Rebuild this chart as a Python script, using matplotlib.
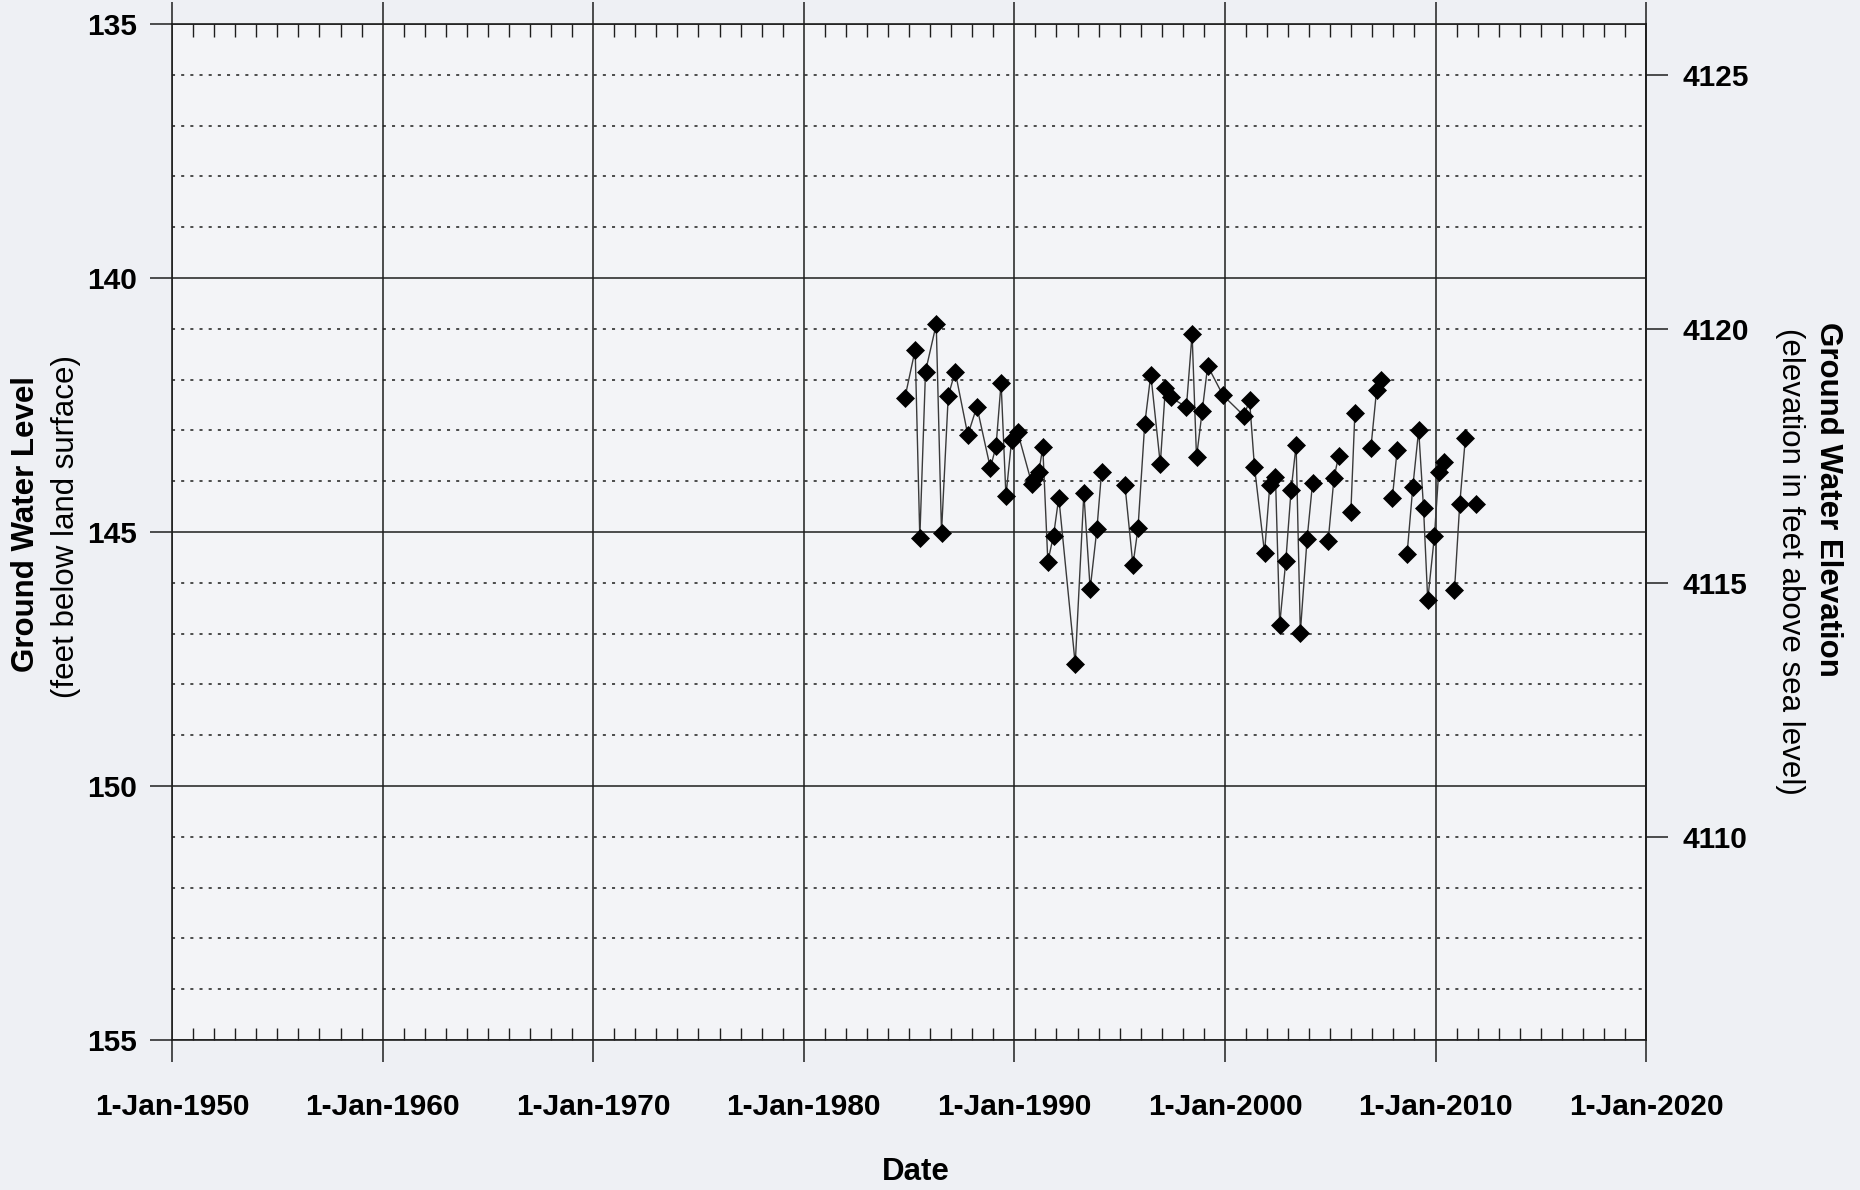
import numpy as np
import matplotlib
matplotlib.use("Agg")
import matplotlib.pyplot as plt
from matplotlib.ticker import MultipleLocator

plt.rcParams['font.family'] = 'Liberation Sans'
plt.rcParams['font.weight'] = 'bold'

# measurement dates as decimal years; nan depth = no line drawn across the gap
years = [1984.80, 1985.29, 1985.51, 1985.78, 1986.29, 1986.54, 1986.86, 1987.19,
         1987.79, 1988.22, 1988.86, 1989.13, 1989.37, 1989.60, 1989.87, 1990.16,
         1990.83, 1990.95, 1991.16, 1991.35, 1991.59, 1991.86, 1992.11, 1992.89,
         1993.30, 1993.60, 1993.92, 1994.14, 1994.70,
         1995.25, 1995.63, 1995.87, 1996.19, 1996.48, 1996.93, 1997.17, 1997.43,
         1998.17, 1998.44, 1998.65, 1998.92, 1999.18, 1999.91, 2000.90, 2001.17,
         2001.40, 2001.88, 2002.13, 2002.40, 2002.60, 2002.89, 2003.14, 2003.38,
         2003.58, 2003.90, 2004.16, 2004.50,
         2004.90, 2005.18, 2005.40, 2005.70,
         2005.98, 2006.17, 2006.55,
         2006.93, 2007.20, 2007.40, 2007.70,
         2007.95, 2008.18, 2008.40,
         2008.65, 2008.92, 2009.20, 2009.43, 2009.63, 2009.95, 2010.15, 2010.40, 2010.65,
         2010.90, 2011.15, 2011.42, 2011.70,
         2011.93]
depth_ft = [142.36, 141.41, 145.12, 141.84, 140.91, 145.01, 142.32, 141.84,
            143.09, 142.53, 143.74, 143.31, 142.06, 144.29, 143.19, 143.04,
            144.05, 143.95, 143.82, 143.33, 145.58, 145.07, 144.32, 147.60,
            144.24, 146.12, 144.94, 143.82, np.nan,
            144.07, 145.65, 144.93, 142.88, 141.90, 143.66, 142.17, 142.35,
            142.54, 141.10, 143.53, 142.62, 141.73, 142.31, 142.71, 142.41,
            143.71, 145.41, 144.08, 143.91, 146.82, 145.57, 144.18, 143.29,
            146.98, 145.14, 144.04, np.nan,
            145.18, 143.93, 143.50, np.nan,
            144.60, 142.66, np.nan,
            143.35, 142.21, 142.00, np.nan,
            144.33, 143.38, np.nan,
            145.43, 144.12, 142.99, 144.52, 146.34, 145.07, 143.82, 143.62, np.nan,
            146.15, 144.45, 143.14, np.nan,
            144.45]

decades = [1950, 1960, 1970, 1980, 1990, 2000, 2010, 2020]
decade_labels = ['1-Jan-1950', '1-Jan-1960', '1-Jan-1970', '1-Jan-1980',
                 '1-Jan-1990', '1-Jan-2000', '1-Jan-2010', '1-Jan-2020']
depth_ticks = [135, 140, 145, 150, 155]
elev_ticks = [4110, 4115, 4120, 4125]
land_surface = 4261  # ft above sea level

bg = '#eef0f4'
ink = '#1e1e1e'

fig = plt.figure(figsize=(18.6, 11.9), dpi=100)
fig.patch.set_facecolor(bg)
ax = fig.add_axes([0.0925, 0.126, 0.7925, 0.8538])
ax.set_facecolor('#f3f4f7')

ax.plot(years, depth_ft, color='#3a3a3a', lw=1.0, marker='D', ms=9,
        mfc='black', mec='black', mew=0.5, zorder=3)

ax.set_xlim(1950, 2020)
ax.set_ylim(155, 135)

ax.set_xticks(decades)
ax.set_xticklabels(decade_labels)
ax.xaxis.set_minor_locator(MultipleLocator(1))
ax.set_yticks(depth_ticks)
ax.yaxis.set_minor_locator(MultipleLocator(1))

ax.grid(which='major', axis='both', color=ink, lw=1.1, ls='-')
ax.grid(which='minor', axis='y', color=ink, lw=1.1, ls=(0, (2, 4)))
ax.set_axisbelow(True)

for s in ax.spines.values():
    s.set_color(ink)
    s.set_linewidth(1.2)

ax.tick_params(axis='x', which='major', direction='out', length=16, width=1.1,
               top=True, bottom=True, labeltop=False, labelsize=21.5, pad=22, color=ink)
ax.tick_params(axis='x', which='minor', direction='in', length=9, width=1.0,
               top=True, bottom=True, color=ink)
ax.tick_params(axis='y', which='major', direction='out', length=16, width=1.1,
               labelsize=21.5, pad=9, color=ink)
ax.tick_params(axis='y', which='minor', length=0)

sec = ax.secondary_yaxis('right', functions=(lambda d: land_surface - d,
                                             lambda e: land_surface - e))
sec.set_yticks(elev_ticks)
sec.tick_params(direction='out', length=16, width=1.1, labelsize=21.5, pad=10, color=ink)
sec.spines['right'].set_linewidth(1.2)
sec.spines['right'].set_color(ink)

fig.text(26 / 1860, 1 - 524 / 1190, 'Ground Water Level', rotation=90,
         ha='center', va='center', fontsize=22.5, fontweight='bold')
fig.text(66 / 1860, 1 - 526 / 1190, '(feet below land surface)', rotation=90,
         ha='center', va='center', fontsize=22.5, fontweight='normal')
fig.text(1828 / 1860, 1 - 322 / 1190, 'Ground Water Elevation', rotation=270,
         ha='center', va='top', fontsize=22.5, fontweight='bold')
fig.text(1790 / 1860, 1 - 328 / 1190, '(elevation in feet above sea level)', rotation=270,
         ha='center', va='top', fontsize=22.5, fontweight='normal')
fig.text(916 / 1860, 1 - 1172 / 1190, 'Date', ha='center', va='center',
         fontsize=22.5, fontweight='bold')

fig.savefig('out.png', dpi=100, facecolor=fig.get_facecolor())
